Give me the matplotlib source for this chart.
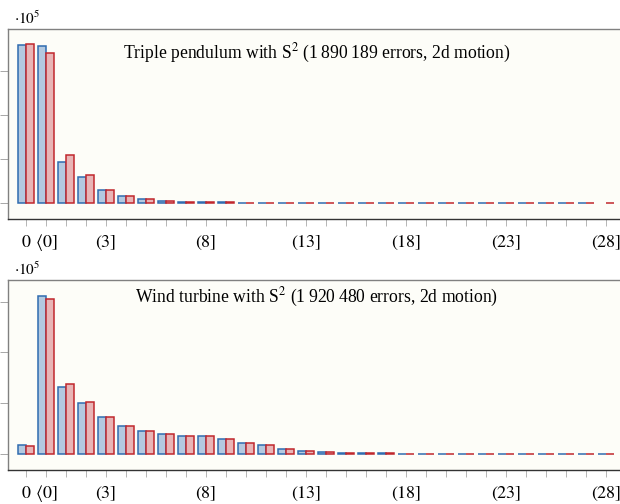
import matplotlib
matplotlib.use("Agg")
import matplotlib.pyplot as plt
import numpy as np

plt.rcParams['font.family'] = ['Liberation Serif', 'DejaVu Serif']
plt.rcParams['mathtext.fontset'] = 'stix'

# error-count histograms, values in units of 1e5
categories = list(range(30))
tick_labels = {0: "$0$", 1: r"$\langle 0]$", 4: "$(3]$", 9: "$(8]$", 14: "$(13]$",
               19: "$(18]$", 24: "$(23]$", 29: "$(28]$"}

pendulum_blue = [7.18, 7.14, 1.88, 1.18, 0.60, 0.32, 0.17, 0.09, 0.05, 0.03,
                 0.02, 0.012, 0.008, 0.005, 0.003, 0.002, 0.0015, 0.001, 0.001, 0.001,
                 0.001, 0.001, 0.001, 0.001, 0.001, 0.001, 0.001, 0.001, 0.001, 0.0]
pendulum_red = [7.23, 6.80, 2.18, 1.26, 0.60, 0.32, 0.17, 0.09, 0.05, 0.03,
                0.02, 0.012, 0.008, 0.005, 0.003, 0.002, 0.0015, 0.001, 0.001, 0.001,
                0.001, 0.001, 0.001, 0.001, 0.001, 0.001, 0.001, 0.001, 0.001, 0.001]

turbine_blue = [0.34, 6.23, 2.64, 2.00, 1.46, 1.10, 0.89, 0.79, 0.72, 0.69,
                0.60, 0.44, 0.34, 0.21, 0.13, 0.09, 0.05, 0.03, 0.02, 0.015,
                0.01, 0.008, 0.006, 0.004, 0.003, 0.002, 0.0015, 0.001, 0.001, 0.001]
turbine_red = [0.30, 6.09, 2.77, 2.05, 1.46, 1.10, 0.89, 0.79, 0.72, 0.69,
               0.60, 0.44, 0.34, 0.21, 0.13, 0.09, 0.05, 0.03, 0.02, 0.015,
               0.01, 0.008, 0.006, 0.004, 0.003, 0.002, 0.0015, 0.001, 0.001, 0.001]

titles = ["Triple pendulum with S$^2$ (1\u2009890\u2009189 errors, 2d motion)",
          "Wind turbine with S$^2$ (1\u2009920\u2009480 errors, 2d motion)"]

W, H = 620, 504
fig = plt.figure(figsize=(W / 100, H / 100), dpi=100)


def px_axes(left, top, right, bottom):
    return fig.add_axes([left / W, 1 - bottom / H, (right - left) / W, (bottom - top) / H])


def draw_panel(ax, blue, red, ylim, title, title_y):
    x = np.array(categories)
    blue = np.array(blue) * 1e5
    red = np.array(red) * 1e5
    bmask = blue > 0
    ax.bar(x[bmask] - 0.2, blue[bmask], width=0.4, color="#b3c9e0",
           edgecolor="#2f6cb0", linewidth=1.1, zorder=3)
    ax.bar(x + 0.2, red, width=0.4, color="#e8b5b6",
           edgecolor="#c0272d", linewidth=1.1, zorder=3)
    ax.set_xlim(-0.9, 30.0)
    ax.set_ylim(*ylim)
    ax.set_facecolor("#fdfdf8")
    ax.set_yticks([0, 2e5, 4e5, 6e5])
    ax.set_yticklabels([])
    ax.set_xticks(categories)
    ax.set_xticklabels([tick_labels.get(i, "") for i in categories], fontsize=13)
    # put all labels on one baseline so the angle bracket doesn't push one down
    for lab in ax.get_xticklabels():
        lab.set_verticalalignment("baseline")
    ax.tick_params(axis="y", direction="out", length=6, color="#999999", width=0.6)
    ax.tick_params(axis="x", direction="out", length=5, color="#aaaaaa", width=0.6,
                   pad=15)
    for side in ("top", "left", "right"):
        ax.spines[side].set_color("#808080")
        ax.spines[side].set_linewidth(1.0)
    ax.spines["bottom"].set_color("#333333")
    ax.spines["bottom"].set_linewidth(1.0)
    ax.text(0.5, title_y, title, transform=ax.transAxes, ha="center",
            va="center", fontsize=12.7)


ax1 = px_axes(8, 29, 626, 219)
draw_panel(ax1, pendulum_blue, pendulum_red, (-0.73e5, 7.9e5), titles[0],
           1 - (53 - 29) / 190)
fig.text(14 / W, 1 - 18 / H, r"$\cdot 10^5$", fontsize=11, va="center")

ax2 = px_axes(8, 280, 626, 470)
draw_panel(ax2, turbine_blue, turbine_red, (-0.63e5, 6.85e5), titles[1],
           1 - (297 - 280) / 190)
fig.text(14 / W, 1 - 269 / H, r"$\cdot 10^5$", fontsize=11, va="center")

fig.savefig("out.png", dpi=100)
